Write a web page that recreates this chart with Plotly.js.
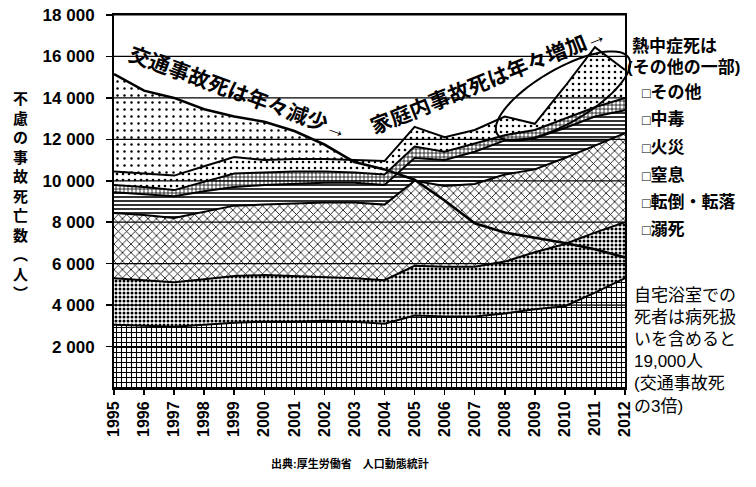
<!DOCTYPE html>
<html>
<head>
<meta charset="utf-8">
<script src="https://cdn.plot.ly/plotly-3.0.1.min.js"></script>
<style>html,body{margin:0;padding:0;background:#fff;}#chart{width:756px;height:487px;}</style>
</head>
<body>
<div id="chart"></div>
<script>
// ---- data ----
const years = [1995,1996,1997,1998,1999,2000,2001,2002,2003,2004,2005,2006,2007,2008,2009,2010,2011,2012];
const yearLabels = years.map(String);
const traffic  = [15150,14350,14000,13450,13100,12850,12400,11750,10900,10550,10050,9050,7950,7500,7250,7000,6700,6300];
const drowning = [3050,3000,2950,3050,3150,3200,3200,3250,3200,3100,3500,3450,3450,3600,3800,3950,4600,5300];
const falls    = [2250,2200,2150,2200,2250,2250,2200,2100,2100,2100,2400,2400,2400,2500,2750,3000,2900,2700];
const choking  = [3150,3150,3100,3250,3400,3400,3500,3600,3650,3650,4100,3900,4000,4200,4000,4150,4200,4300];
const fire     = [1000,1000,1050,1000,900,950,950,950,950,950,1100,1250,1550,1650,1500,1450,1400,1100];
const poison   = [350,350,300,450,650,600,600,550,500,500,550,400,400,250,400,450,450,600];
const other    = [650,650,700,750,800,600,600,600,600,650,950,700,650,900,300,1550,2900,1350];
const seriesNames = ['溺死','転倒・転落','窒息','火災','中毒','その他'];
const yTickVals = [2000,4000,6000,8000,10000,12000,14000,16000,18000];
const yTickLabels = ['2 000','4 000','6 000','8 000','10 000','12 000','14 000','16 000','18 000'];
const legendLabels = ['その他','中毒','火災','窒息','転倒・転落','溺死'];
const yTitleChars = ['不','慮','の','事','故','死','亡','数','︵','人','︶'];
const noteLines = ['自宅浴室での','死者は病死扱','いを含めると','19,000人','(交通事故死','の3倍)'];

// ---- plot geometry (pixels) ----
const L = 114, R = 625, T = 15, B = 388;
const px = x => (x - L) / (R - L);
const py = y => (B - y) / (B - T);
const CJK = 'Liberation Sans, Noto Sans CJK JP, sans-serif';

const patterns = [
  {shape:'+', size:5, solidity:0.38},
  {shape:'.', size:4, solidity:0.45},
  {shape:'x', size:6, solidity:0.25},
  {shape:'-', size:4, solidity:0.4},
  {shape:'+', size:4, solidity:0.35},
  {shape:'.', size:6, solidity:0.15}
];
const seriesData = [drowning, falls, choking, fire, poison, other];

const traces = [];
traces.push({x:years, y:traffic, type:'scatter', mode:'lines', fill:'tozeroy',
  line:{color:'#000', width:0}, fillcolor:'#fff',
  fillpattern:{shape:'.', size:7, solidity:0.1, fgcolor:'#000', bgcolor:'#fff'},
  hoverinfo:'skip', showlegend:false});
seriesData.forEach((d,i)=>{
  traces.push({x:years, y:d, name:seriesNames[i], type:'scatter', mode:'lines',
    stackgroup:'home', line:{color:'#000', width:2},
    fillpattern:Object.assign({fgcolor:'#000', bgcolor:'#fff'}, patterns[i]),
    showlegend:false});
});
traces.push({x:years, y:traffic, type:'scatter', mode:'lines', name:'交通事故死',
  line:{color:'#000', width:2.6}, showlegend:false});

// gridlines above the fills
const shapes = yTickVals.map(v => ({type:'line', xref:'paper', x0:0, x1:1, yref:'y', y0:v, y1:v,
  line:{color:'#000', width:1.2}, layer:'above'}));

// ellipse around the recent years
function ellipsePath(cx, cy, a, b, angDeg){
  const t = angDeg*Math.PI/180; let s='';
  for(let i=0;i<=72;i++){
    const th = 2*Math.PI*i/72;
    const ex = a*Math.cos(th), ey = b*Math.sin(th);
    const X = cx + ex*Math.cos(t) - ey*Math.sin(t);
    const Y = cy + ex*Math.sin(t) + ey*Math.cos(t);
    s += (i===0?'M':'L') + px(X).toFixed(4) + ',' + py(Y).toFixed(4);
  }
  return s + 'Z';
}
shapes.push({type:'path', xref:'paper', yref:'paper', path:ellipsePath(563, 96, 76, 27, -30),
  line:{color:'#000', width:2}, layer:'above'});

const annotations = [];
annotations.push({xref:'paper', yref:'paper', x:px(238), y:py(92), xanchor:'center', yanchor:'middle',
  text:'交通事故死は年々減少→', textangle:20, showarrow:false,
  font:{family:CJK, size:21, color:'#000', weight:'bold'}});
annotations.push({xref:'paper', yref:'paper', x:px(488), y:py(80), xanchor:'center', yanchor:'middle',
  text:'家庭内事故死は年々増加→', textangle:-22, showarrow:false,
  font:{family:CJK, size:21, color:'#000', weight:'bold'}});
annotations.push({xref:'paper', yref:'paper', x:px(630), y:py(46), xanchor:'left', yanchor:'middle',
  text:'熱中症死は', showarrow:false, font:{family:CJK, size:17, color:'#000', weight:'bold'}});
annotations.push({xref:'paper', yref:'paper', x:px(625), y:py(67), xanchor:'left', yanchor:'middle',
  text:'(その他の一部)', showarrow:false, font:{family:CJK, size:17, color:'#000', weight:'bold'}});
legendLabels.forEach((lab,i)=>{
  annotations.push({xref:'paper', yref:'paper', x:px(640), y:py(92 + i*27.6), xanchor:'left', yanchor:'middle',
    text:'<span style="font-size:14px">□</span>' + lab, showarrow:false,
    font:{family:CJK, size:17, color:'#000', weight:'bold'}});
});
annotations.push({xref:'paper', yref:'paper', x:px(632), y:py(351), xanchor:'left', yanchor:'middle', align:'left',
  text:noteLines.join('<br>'), showarrow:false, font:{family:CJK, size:17, color:'#000'}});
annotations.push({xref:'paper', yref:'paper', x:px(20), y:py(195), xanchor:'center', yanchor:'middle', align:'center',
  text:yTitleChars.join('<br>'), showarrow:false, font:{family:'Noto Sans CJK JP', size:15, color:'#000', weight:'bold'}});
annotations.push({xref:'paper', yref:'paper', x:px(350), y:py(464), xanchor:'center', yanchor:'middle',
  text:'出典:厚生労働省　人口動態統計', showarrow:false, font:{family:CJK, size:11, color:'#000', weight:'bold'}});

const layout = {
  width:756, height:487,
  margin:{l:L, r:756-R, t:T, b:487-B, pad:0},
  paper_bgcolor:'#fff', plot_bgcolor:'#fff',
  showlegend:false,
  xaxis:{range:[1995,2012], tickvals:years, ticktext:yearLabels, tickangle:-90,
    ticks:'outside', ticklen:5, tickwidth:1.5, tickcolor:'#000',
    showgrid:false, zeroline:false, showline:true, linecolor:'#000', linewidth:2, mirror:true,
    tickfont:{family:'Liberation Sans', size:16, color:'#000', weight:'bold'}, fixedrange:true},
  yaxis:{range:[0,18000], tickvals:yTickVals, ticktext:yTickLabels,
    ticks:'outside', ticklen:6, tickwidth:1.5, tickcolor:'#000', ticklabelstandoff:8,
    showgrid:false, zeroline:false, showline:true, linecolor:'#000', linewidth:2, mirror:true,
    tickfont:{family:'Liberation Sans', size:17, color:'#000', weight:'bold'}, fixedrange:true},
  shapes:shapes,
  annotations:annotations
};
Plotly.newPlot('chart', traces, layout, {staticPlot:true});
</script>
</body>
</html>
